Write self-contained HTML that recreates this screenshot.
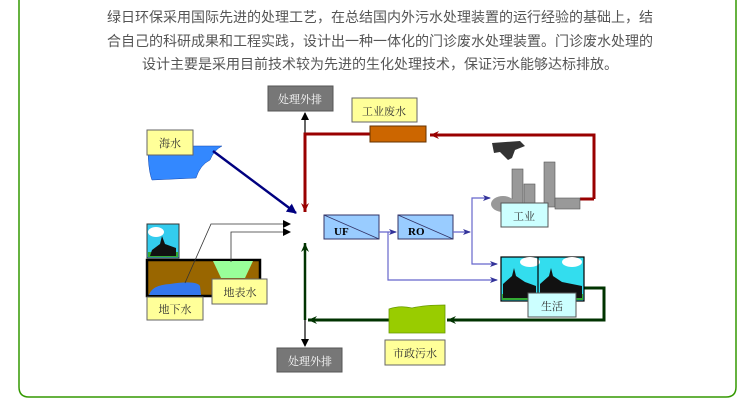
<!DOCTYPE html>
<html><head><meta charset="utf-8"><style>
html,body{margin:0;padding:0;background:#fff;width:750px;height:415px;overflow:hidden}
svg{position:absolute;left:0;top:0}
</style></head><body>
<svg width="750" height="415" viewBox="0 0 750 415" xmlns="http://www.w3.org/2000/svg" font-family="'Liberation Serif','Noto Serif CJK SC',serif">
<defs>
<marker id="ab" markerWidth="8" markerHeight="8" refX="7" refY="4" orient="auto" markerUnits="userSpaceOnUse"><path d="M0,0 L8,4 L0,8 z" fill="#000"/></marker>
<marker id="ar" markerWidth="10" markerHeight="10" refX="9" refY="5" orient="auto" markerUnits="userSpaceOnUse"><path d="M0,1 L9,5 L0,9 L3,5 z" fill="#990000"/></marker>
<marker id="ag" markerWidth="10" markerHeight="10" refX="9" refY="5" orient="auto" markerUnits="userSpaceOnUse"><path d="M0,1 L9,5 L0,9 L3,5 z" fill="#003300"/></marker>
<marker id="an" markerWidth="10" markerHeight="10" refX="9" refY="5" orient="auto" markerUnits="userSpaceOnUse"><path d="M0,0 L10,5 L0,10 z" fill="#000080"/></marker>
<marker id="ap" markerWidth="8" markerHeight="8" refX="7" refY="4" orient="auto" markerUnits="userSpaceOnUse"><path d="M0,1 L8,4 L0,7 L2,4 z" fill="#333399"/></marker>
</defs>
<path d="M19,0 V387 Q19,397 29,397 H726 Q736,397 736,387 V0" fill="none" stroke="#339900" stroke-width="1.5"/>
<g font-family="'Liberation Sans','Noto Sans CJK SC',sans-serif" font-size="14" fill="#555" text-anchor="middle">
<text x="380" y="22">绿日环保采用国际先进的处理工艺，在总结国内外污水处理装置的运行经验的基础上，结</text>
<text x="380" y="46">合自己的科研成果和工程实践，设计出一种一体化的门诊废水处理装置。门诊废水处理的</text>
<text x="380" y="69">设计主要是采用目前技术较为先进的生化处理技术，保证污水能够达标排放。</text>
</g>
<rect x="268" y="86" width="65" height="25" fill="#777" stroke="#555"/>
<text x="300" y="103" font-size="11" fill="#fff" text-anchor="middle">处理外排</text>
<line x1="305" y1="134" x2="305" y2="113" stroke="#000" stroke-width="1.2" marker-end="url(#ab)"/>
<path d="M594,199 H594 V135 H430" fill="none" stroke="#990000" stroke-width="3" marker-end="url(#ar)"/>
<line x1="580" y1="199" x2="594" y2="199" stroke="#990000" stroke-width="3"/>
<path d="M370,134 H305 V212" fill="none" stroke="#990000" stroke-width="3" marker-end="url(#ar)"/>
<rect x="370" y="126" width="56" height="16" fill="#cc6600" stroke="#663300"/>
<rect x="352" y="98" width="65" height="24" fill="#ffff99" stroke="#666"/>
<text x="384" y="115" font-size="11" fill="#333" text-anchor="middle">工业废水</text>
<path d="M148,146 H222 Q214,150 210,160 Q200,165 196,178 L152,180 Q148,170 148,146 z" fill="#3388ff" stroke="#1144aa" stroke-width="0.5"/>
<rect x="147" y="130" width="46" height="25" fill="#ffff99" stroke="#666"/>
<text x="170" y="147" font-size="11" fill="#333" text-anchor="middle">海水</text>
<line x1="213" y1="151" x2="296" y2="213" stroke="#000080" stroke-width="2.5" marker-end="url(#an)"/>
<rect x="147" y="224" width="32" height="34" fill="#33ccee" stroke="#333"/>
<ellipse cx="156" cy="232" rx="8" ry="5" fill="#fff"/>
<rect x="148" y="252" width="30" height="5" fill="#33aa33"/>
<path d="M150,256 L176,256 L176,248 L165,244 L162,236 L160,244 L152,250 z" fill="#111"/>
<rect x="147" y="260" width="113" height="36" fill="#996600" stroke="#000" stroke-width="2.5"/>
<path d="M213,261 H253 L245,278 H221 z" fill="#99ff99"/>
<path d="M149,295 Q152,285 170,284 Q196,280 200,286 L201,295 z" fill="#3377ee"/>
<polyline points="185,283 211,224 290,224" fill="none" stroke="#333" stroke-width="0.8" marker-end="url(#ab)"/>
<polyline points="231,262 231,232 290,232" fill="none" stroke="#333" stroke-width="0.8" marker-end="url(#ab)"/>
<rect x="147" y="297" width="56" height="23" fill="#ffff99" stroke="#666"/>
<text x="175" y="313" font-size="11" fill="#333" text-anchor="middle">地下水</text>
<rect x="212" y="279" width="55" height="25" fill="#ffff99" stroke="#666"/>
<text x="240" y="296" font-size="11" fill="#333" text-anchor="middle">地表水</text>
<path d="M305,320 V243" fill="none" stroke="#003300" stroke-width="2.5" marker-end="url(#ag)"/>
<path d="M389,320 H308" fill="none" stroke="#003300" stroke-width="3" marker-end="url(#ag)"/>
<path d="M584,288 H604 V320 H447" fill="none" stroke="#003300" stroke-width="3" marker-end="url(#ag)"/>
<line x1="305" y1="320" x2="305" y2="346" stroke="#000" stroke-width="1.2" marker-end="url(#ab)"/>
<rect x="277" y="348" width="65" height="24" fill="#777" stroke="#555"/>
<text x="310" y="365" font-size="11" fill="#fff" text-anchor="middle">处理外排</text>
<path d="M389,309 Q400,305 412,308 Q425,305 445,305 V333 H389 z" fill="#99cc00" stroke="#669900" stroke-width="0.8"/>
<rect x="385" y="340" width="60" height="25" fill="#ffff99" stroke="#666"/>
<text x="415" y="357" font-size="11" fill="#333" text-anchor="middle">市政污水</text>
<rect x="324" y="215" width="55" height="24" fill="#99ccff" stroke="#336"/>
<line x1="324" y1="215" x2="379" y2="239" stroke="#336" stroke-width="0.8"/>
<text x="334" y="235" font-size="11" font-weight="bold" fill="#000">UF</text>
<rect x="398" y="215" width="55" height="24" fill="#99ccff" stroke="#336"/>
<line x1="398" y1="215" x2="453" y2="239" stroke="#336" stroke-width="0.8"/>
<text x="408" y="235" font-size="11" font-weight="bold" fill="#000">RO</text>
<g fill="none" stroke="#6666cc" stroke-width="1.2">
<line x1="379" y1="232" x2="396" y2="232" marker-end="url(#ap)"/>
<polyline points="388,232 388,280 497,280" marker-end="url(#ap)"/>
<line x1="453" y1="232" x2="470" y2="232" marker-end="url(#ap)"/>
<polyline points="472,232 472,198 490,198" marker-end="url(#ap)"/>
<polyline points="472,232 472,264 497,264" marker-end="url(#ap)"/>
</g>
<path d="M492,143 L520,141 L525,146 L515,150 L512,158 L508,160 L500,152 L494,153 z" fill="#333"/>
<rect x="512" y="169" width="11" height="38" fill="#999" stroke="#555" stroke-width="0.6"/>
<rect x="524" y="184" width="11" height="23" fill="#999" stroke="#555" stroke-width="0.6"/>
<rect x="544" y="162" width="11" height="45" fill="#999" stroke="#555" stroke-width="0.6"/>
<rect x="555" y="198" width="25" height="11" fill="#999" stroke="#555" stroke-width="0.6"/>
<ellipse cx="503" cy="204" rx="12" ry="8" fill="#999"/>
<rect x="501" y="203" width="47" height="24" fill="#ccffff" stroke="#555"/>
<text x="524" y="220" font-size="11" fill="#333" text-anchor="middle">工业</text>
<rect x="501" y="257" width="83" height="44" fill="#33ddee" stroke="#000" stroke-width="1.2"/>
<ellipse cx="530" cy="262" rx="10" ry="5" fill="#fff"/>
<ellipse cx="572" cy="262" rx="10" ry="5" fill="#fff"/>
<rect x="502" y="294" width="81" height="6" fill="#33aa33"/>
<line x1="538" y1="257" x2="538" y2="301" stroke="#000" stroke-width="1.2"/>
<path d="M503,298 V284 L512,276 L514,268 L516,276 L525,282 L536,286 V298 z" fill="#111"/>
<path d="M540,298 V284 L549,276 L551,268 L553,276 L562,282 L582,286 V298 z" fill="#111"/>
<rect x="528" y="293" width="48" height="24" fill="#ccffff" stroke="#555"/>
<text x="552" y="310" font-size="11" fill="#333" text-anchor="middle">生活</text>
</svg>
</body></html>
